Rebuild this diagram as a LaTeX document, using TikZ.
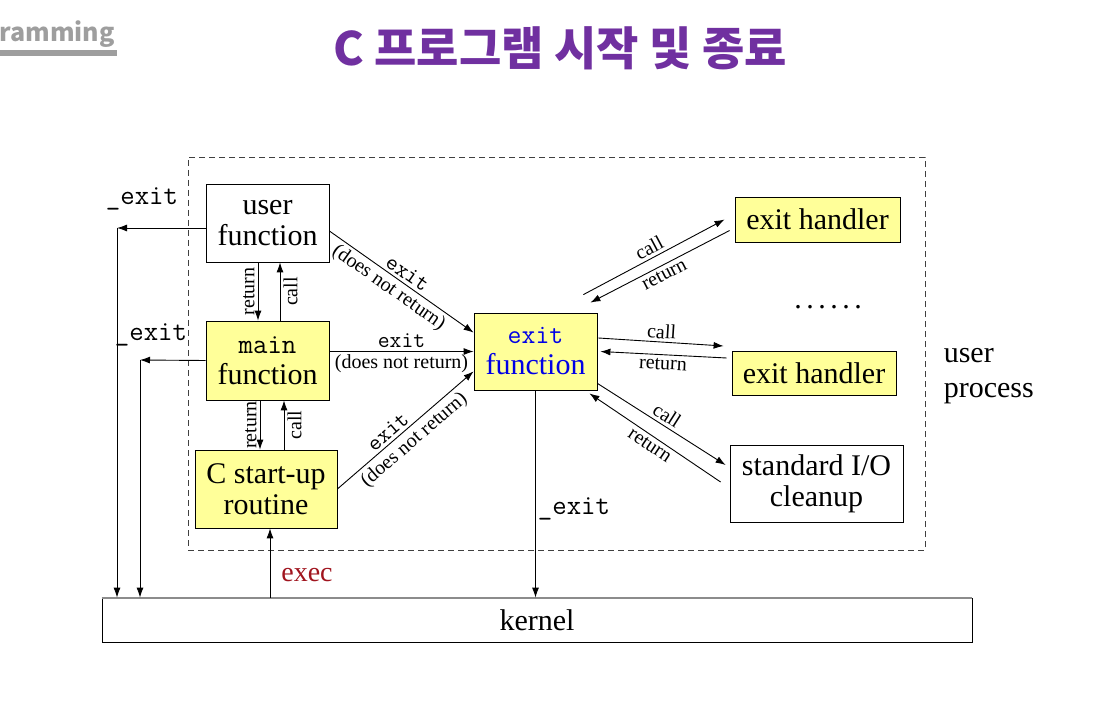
\documentclass[tikz,border=0pt]{standalone}
\usepackage{fontspec}
\setmainfont{Liberation Serif}
\newfontfamily\kofont{Noto Sans CJK KR}
\usetikzlibrary{arrows.meta}
\definecolor{boxyellow}{RGB}{255,255,153}
\definecolor{titlepurple}{RGB}{112,48,160}
\definecolor{execred}{RGB}{160,20,30}
\definecolor{exitblue}{RGB}{0,0,230}
\newcommand{\fsz}[1]{\fontsize{#1}{#1}\selectfont}

\begin{document}
\begin{tikzpicture}[x=1pt, y=-1pt, line width=0.9pt,
  box/.style={draw, line width=0.8pt, align=center, inner sep=0pt, font={\fontsize{30}{31}\selectfont}},
  ybox/.style={box, fill=boxyellow},
  arr/.style={-{Latex[length=10pt,width=7pt]}},
  lbl/.style={font={\fsz{20}}, inner sep=3pt},
  mono/.style={font={\ttfamily\fsz{23}}, inner sep=3pt}]
\useasboundingbox (0,0) rectangle (1098,706);
% title
\node[font={\kofont\bfseries\fsz{25}}, text=black!38, anchor=base west, inner sep=0pt] (prog) at (-1,42) {ramming};
\node[fill=black!38, minimum width=117, minimum height=6, inner sep=0pt, anchor=north west] (bar) at (0,50) {};
\node[font={\kofont\bfseries\fsz{46}}, text=titlepurple] (title) at (560,48) {C 프로그램 시작 및 종료};
% user process frame
\node[draw, line width=0.7pt, dash pattern=on 6pt off 4pt, black!75, minimum width=737, minimum height=393, inner sep=0pt] (proc) at (556.5,353.5) {};
\node[font={\fontsize{30}{35}\selectfont}, align=left, anchor=west] (up) at (940,376) {user\\process};
% boxes
\node[box, minimum width=123, minimum height=78] (uf) at (267.5,223) {user\\function};
\node[ybox, minimum width=123, minimum height=79] (mf) at (267.5,360.5) {{\ttfamily\fsz{28}main}\\function};
\node[ybox, minimum width=142, minimum height=78] (cs) at (266,489) {C start-up\\routine};
\node[ybox, minimum width=123, minimum height=77, text=exitblue] (exf) at (535.5,351.5) {{\ttfamily\fsz{27}exit}\\function};
\node[ybox, minimum width=165, minimum height=45] (eh1) at (817.5,219.5) {exit handler};
\node[ybox, minimum width=164, minimum height=44] (eh2) at (814,373) {exit handler};
\node[box, minimum width=173, minimum height=77] (sio) at (816.5,483.5) {standard I/O\\cleanup};
\node[font={\fsz{30}\addfontfeature{LetterSpace=15}}, anchor=base] (dots) at (828,308) {......};
\node[box, minimum width=870, minimum height=44] (kn) at (537,620) {kernel};
\draw[black!45, line width=2pt] (kn.north west) -- (kn.north east);
% _exit to kernel
\coordinate (ue) at (117,228);
\coordinate (me) at (140,360);
\node[font={\ttfamily\fsz{28}}] (ux) at (142,199) {\_exit};
\node[font={\ttfamily\fsz{28}}] (mx) at (151,335) {\_exit};
\node[font={\ttfamily\fsz{28}}] (fx) at (574,509) {\_exit};
\draw[arr] ([yshift=-5pt]uf.west) -- (ue);
\draw[arr] (ue) -- (ue |- kn.north);
\draw[arr] (mf.west) -- (me);
\draw[arr] (me) -- (me |- kn.north);
\draw[arr] (exf.south) -- (exf.south |- kn.north);
% exec
\draw[arr] ([xshift=4pt]cs.south |- kn.north) -- ([xshift=4pt]cs.south);
\node[font={\fsz{28}}, text=execred] (exec) at (307,575) {exec};
% call / return
\draw[arr] ([xshift=-9.5pt]uf.south) -- ([xshift=-9.5pt]uf.south |- mf.north) node[midway, anchor=south, rotate=90, lbl] {return};
\draw[arr] ([xshift=12.5pt]uf.south |- mf.north) -- ([xshift=12.5pt]uf.south) node[midway, anchor=north, rotate=90, lbl] {call};
\draw[arr] ([xshift=-7.5pt]mf.south) -- ([xshift=-7.5pt]mf.south |- cs.north) node[midway, anchor=south, rotate=90, lbl] {return};
\draw[arr] ([xshift=16.5pt]mf.south |- cs.north) -- ([xshift=16.5pt]mf.south) node[midway, anchor=north, rotate=90, lbl] {call};
% exit
\draw[arr] ([yshift=-8pt]uf.east) -- ([yshift=-20pt]exf.north west)
  node[pos=0.5, sloped, above, mono] {exit} node[pos=0.46, sloped, below, lbl] {(does not return)};
\draw[arr] ([yshift=9pt]mf.east) -- (exf.west)
  node[midway, above, mono] {exit} node[midway, below, lbl] {(does not return)};
\draw[arr] (cs.east) -- ([yshift=19pt]exf.south west)
  node[pos=0.42, sloped, above, mono] {exit} node[pos=0.5, sloped, below, lbl, inner sep=4pt] {(does not return)};
% exit handlers
\draw[arr] ([shift={(-14,-18)}]exf.north east) -- ([xshift=-10pt]eh1.west) node[midway, sloped, above, lbl] {call};
\draw[arr] ([shift={(-5,11)}]eh1.west) -- ([shift={(-7,-10)}]exf.north east) node[midway, sloped, below, lbl] {return};
\draw[arr] ([shift={(1,-13.5)}]exf.east) -- ([shift={(-8,-27)}]eh2.west) node[midway, sloped, above, lbl] {call};
\draw[arr] ([shift={(-5,-15)}]eh2.west) -- ([xshift=3pt]exf.east) node[midway, sloped, below, lbl] {return};
\draw[arr] ([yshift=7pt]exf.south east) -- ([shift={(-4,-18.5)}]sio.west) node[midway, sloped, above, lbl] {call};
\draw[arr] ([shift={(-9,-1.5)}]sio.west) -- ([shift={(-8,3)}]exf.south east) node[midway, sloped, below, lbl] {return};
\end{tikzpicture}
\end{document}
